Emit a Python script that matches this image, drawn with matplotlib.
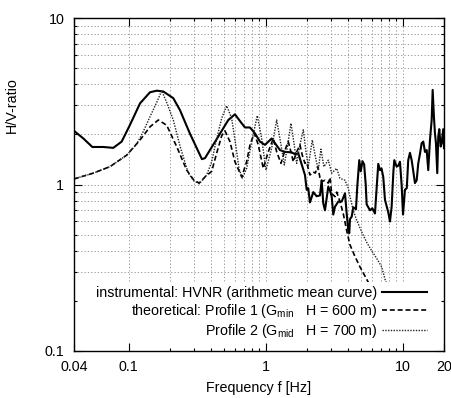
import matplotlib
matplotlib.use('Agg')
import matplotlib.pyplot as plt
from matplotlib.patches import Rectangle

plt.rcParams['font.family'] = ['Liberation Sans', 'DejaVu Sans']
plt.rcParams['mathtext.default'] = 'regular'
plt.rcParams['font.size'] = 10.3

# instrumental HVNR (arithmetic mean curve)
inst_f = [0.04, 0.0468, 0.0544, 0.0654, 0.0774, 0.0891, 0.1024, 0.1212, 0.1433, 0.1604,
          0.1792, 0.212, 0.237, 0.2805, 0.343, 0.361, 0.451, 0.534, 0.597, 0.669,
          0.707, 0.769, 0.835, 0.909, 0.989, 1.106, 1.170, 1.272, 1.384, 1.548,
          1.637, 1.730, 1.832, 1.936, 1.992, 2.046, 2.105, 2.226, 2.356, 2.490,
          2.563, 2.633, 2.709, 2.863, 2.946, 3.031, 3.114, 3.204, 3.387, 3.586,
          3.791, 3.900, 4.006, 4.074, 4.122, 4.242, 4.357, 4.559, 4.660, 4.819,
          4.940, 5.090, 5.230, 5.370, 5.456, 5.768, 6.000, 6.274, 6.450, 6.632,
          6.823, 7.000, 7.210, 7.420, 7.845, 8.070, 8.300, 8.550, 8.680, 9.030,
          9.300, 9.546, 9.820, 10.05, 10.38, 10.70, 10.97, 11.29, 11.62, 11.94,
          12.28, 12.64, 12.98, 13.36, 13.74, 14.12, 14.53, 14.95, 15.35, 15.80,
          16.26, 16.53, 16.89, 17.18, 17.47, 17.86, 18.16, 18.48, 18.91, 19.23,
          19.75, 20.0]
inst_v = [2.10, 1.89, 1.68, 1.68, 1.66, 1.81, 2.28, 3.07, 3.58, 3.66,
          3.62, 3.30, 2.80, 2.02, 1.42, 1.44, 1.94, 2.44, 2.64, 2.33,
          2.20, 2.20, 2.03, 1.81, 1.73, 1.89, 1.77, 1.61, 1.57, 1.56,
          1.52, 1.54, 1.32, 1.14, 0.93, 0.95, 0.78, 0.90, 0.85, 0.86,
          1.06, 0.77, 0.70, 0.97, 0.92, 0.85, 0.66, 0.735, 0.79, 0.79,
          0.885, 0.67, 0.53, 0.51, 0.62, 0.64, 0.73, 0.71, 0.97, 1.40,
          1.20, 1.38, 1.32, 1.00, 0.76, 0.70, 0.72, 0.67, 0.95, 1.33,
          1.22, 1.25, 1.11, 0.81, 0.68, 0.60, 0.735, 1.20, 1.40, 1.28,
          1.30, 1.37, 0.99, 0.66, 0.93, 0.95, 1.40, 1.55, 1.40, 1.20,
          1.02, 1.06, 1.34, 1.53, 1.77, 1.81, 1.57, 1.61, 1.22, 1.85,
          2.44, 3.70, 2.55, 2.03, 1.77, 1.17, 1.94, 2.15, 1.69, 1.77,
          2.15, 1.65]

# theoretical: Profile 1 (G_min, H = 600 m)
p1_f = [0.04, 0.0553, 0.0732, 0.0969, 0.1212, 0.1433, 0.1648, 0.1897, 0.2244, 0.2655,
        0.300, 0.328, 0.361, 0.404, 0.440, 0.478, 0.505, 0.549, 0.597, 0.669,
        0.727, 0.769, 0.826, 0.884, 0.961, 1.045, 1.137, 1.204, 1.294, 1.384,
        1.462, 1.530, 1.591, 1.684, 1.780, 1.850, 1.936, 1.990, 2.105, 2.226,
        2.300, 2.400, 2.490, 2.563, 2.709, 2.863, 2.950, 3.031, 3.204, 3.300,
        3.485, 3.680, 3.900, 4.120, 4.480, 4.876, 5.456, 5.800]
p1_v = [1.08, 1.17, 1.28, 1.50, 1.85, 2.22, 2.44, 2.27, 1.69, 1.22,
        1.06, 1.02, 1.11, 1.20, 1.55, 1.96, 2.10, 1.81, 1.37, 1.11,
        1.37, 1.73, 2.03, 1.73, 1.25, 1.57, 1.89, 1.57, 1.34, 1.61,
        1.81, 1.57, 1.37, 1.57, 1.73, 1.50, 1.34, 1.36, 1.14, 1.19,
        1.17, 1.28, 1.10, 1.04, 1.06, 1.02, 1.10, 0.885, 0.845, 0.90,
        0.79, 0.67, 0.53, 0.435, 0.37, 0.32, 0.27, 0.245]

# theoretical: Profile 2 (G_mid, H = 700 m)
p2_f = [0.04, 0.0553, 0.0732, 0.0969, 0.1147, 0.128, 0.1433, 0.1604, 0.1745, 0.1897,
        0.212, 0.237, 0.2727, 0.300, 0.328, 0.3714, 0.404, 0.440, 0.478, 0.5196,
        0.565, 0.6045, 0.639, 0.6755, 0.727, 0.791, 0.869, 0.935, 1.0056, 1.106,
        1.204, 1.294, 1.368, 1.448, 1.530, 1.617, 1.684, 1.780, 1.882, 1.970,
        2.046, 2.189, 2.317, 2.420, 2.530, 2.660, 2.863, 3.031, 3.297, 3.485,
        3.791, 4.006, 4.122, 4.357, 4.614, 5.017, 5.456, 5.934, 6.455, 7.022,
        7.420, 7.800]
p2_v = [1.08, 1.17, 1.28, 1.50, 1.75, 2.08, 2.55, 3.11, 3.66, 3.11,
        2.44, 1.71, 1.17, 1.05, 1.01, 1.14, 1.37, 1.89, 2.50, 2.97,
        2.50, 1.73, 1.25, 1.09, 1.25, 1.81, 2.59, 1.89, 1.22, 1.65,
        2.44, 1.73, 1.31, 1.73, 2.33, 1.73, 1.34, 1.73, 2.13, 1.57,
        1.28, 1.85, 1.44, 1.22, 1.63, 1.28, 1.40, 1.17, 1.25, 1.09,
        1.06, 0.95, 0.845, 0.70, 0.61, 0.52, 0.45, 0.40, 0.36, 0.32,
        0.27, 0.245]

labels = ['instrumental: HVNR (arithmetic mean curve)',
          'theoretical: Profile 1 (G$_{min}$   H = 600 m)',
          'Profile 2 (G$_{mid}$   H = 700 m)']

x_major = [0.04, 0.1, 1, 10, 20]
x_major_labels = ['0.04', '0.1', '1', '10', '20']
x_minor = [0.2, 0.3, 0.4, 0.5, 0.6, 0.7, 0.8, 0.9, 2, 3, 4, 5, 6, 7, 8, 9]
y_major = [0.1, 1, 10]
y_major_labels = ['0.1', '1', '10']
y_minor = [0.2, 0.3, 0.4, 0.5, 0.6, 0.7, 0.8, 0.9, 2, 3, 4, 5, 6, 7, 8, 9]

fig = plt.figure(figsize=(4.51, 3.98), dpi=100)
pos = [74 / 451, 47 / 398, 370 / 451, 333 / 398]

# back axes: grid + curves
ax = fig.add_axes(pos)
ax.set_xscale('log')
ax.set_yscale('log')
ax.set_xlim(0.04, 20)
ax.set_ylim(0.1, 10)
ax.set_xticks([0.1, 1, 10])
ax.set_xticks(x_minor, minor=True)
ax.set_yticks([1])
ax.set_yticks(y_minor, minor=True)
ax.tick_params(which='both', length=0, labelbottom=False, labelleft=False)
ax.grid(True, which='both', color='#8a8a8a', linewidth=0.6, linestyle=(0, (1.5, 2.5)))
ax.set_axisbelow(True)
for s in ax.spines.values():
    s.set_visible(False)

h1, = ax.plot(inst_f, inst_v, color='black', lw=1.5, ls='-')
h2, = ax.plot(p1_f, p1_v, color='black', lw=1.2, ls=(0, (3.0, 1.7)))
h3, = ax.plot(p2_f, p2_v, color='#222222', lw=1.0, ls=(0, (1, 1)))

# front axes: white key area, ticks, frame, labels
ax2 = fig.add_axes(pos)
ax2.patch.set_visible(False)
ax2.set_xscale('log')
ax2.set_yscale('log')
ax2.set_xlim(0.04, 20)
ax2.set_ylim(0.1, 10)
ax2.add_patch(Rectangle((0, 0), 1, 0.207, transform=ax2.transAxes,
                        facecolor='white', edgecolor='none', zorder=0))
ax2.set_axisbelow(False)
ax2.set_xticks(x_major, labels=x_major_labels)
ax2.set_xticks(x_minor, minor=True)
ax2.set_yticks(y_major, labels=y_major_labels)
ax2.set_yticks(y_minor, minor=True)
ax2.xaxis.set_minor_formatter(plt.NullFormatter())
ax2.yaxis.set_minor_formatter(plt.NullFormatter())
ax2.tick_params(which='both', direction='in', top=True, right=True, width=0.8)
ax2.tick_params(which='major', length=5.5)
ax2.tick_params(which='minor', length=2.5)
ax2.tick_params(axis='x', which='major', pad=6.5)
ax2.tick_params(axis='y', which='major', pad=7)
for s in ax2.spines.values():
    s.set_linewidth(1.0)

ax2.set_xlabel('Frequency f [Hz]')
ax2.xaxis.set_label_coords(0.5, -0.09)
ax2.set_ylabel('H/V-ratio')
ax2.yaxis.set_label_coords(-0.15, 0.74)

ax2.legend([h1, h2, h3], labels, loc='lower right', bbox_to_anchor=(0.953, 0.032),
           frameon=False, markerfirst=False, handlelength=3.1, handletextpad=0.35,
           labelspacing=0.16, borderpad=0, borderaxespad=0, fontsize=10.3)

fig.savefig('out.png', dpi=100)
